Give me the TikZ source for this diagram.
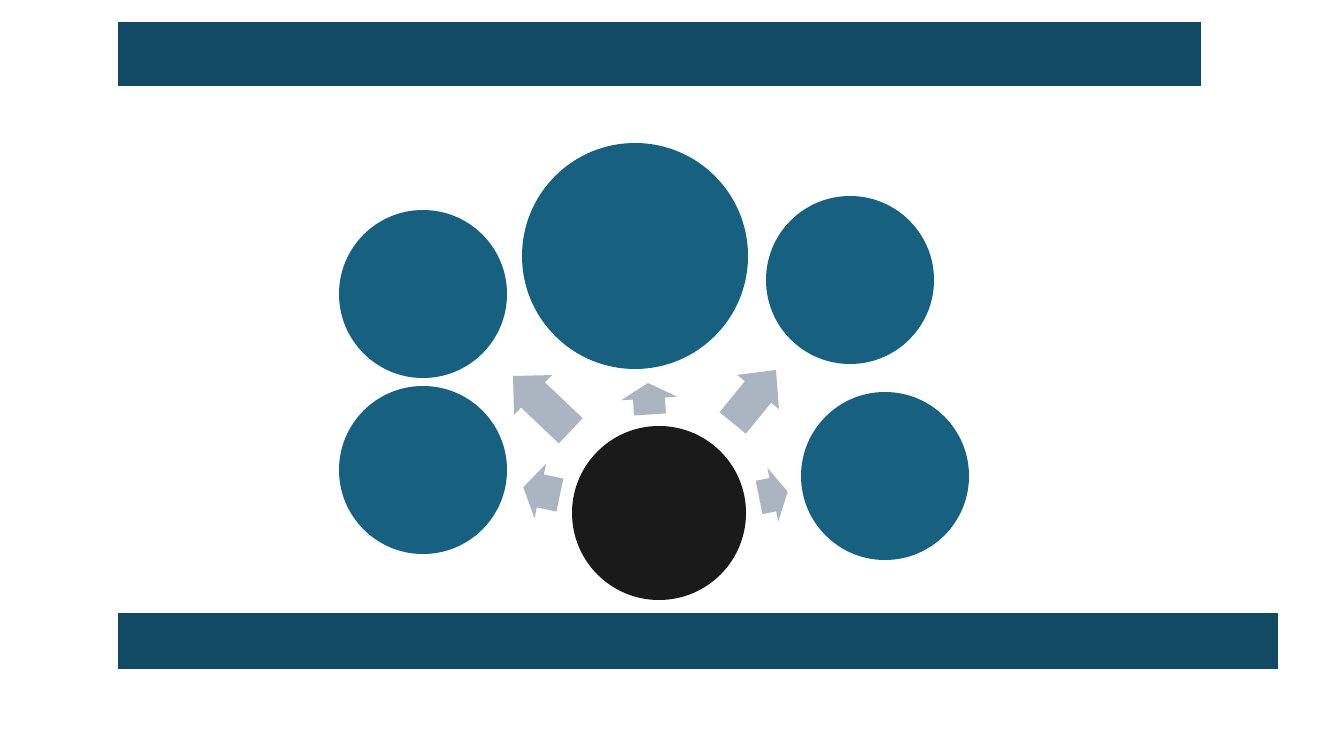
\documentclass[tikz,border=0pt]{standalone}
\definecolor{barcol}{RGB}{18,74,99}
\definecolor{circcol}{RGB}{23,96,128}
\definecolor{blackcol}{RGB}{26,26,26}
\definecolor{arrcol}{RGB}{171,181,193}
% tip x, tip y, angle, head length, head width, shaft width, shaft length
\newcommand\fatarrow[7]{%
  \fill[arrcol,shift={(#1,#2)},rotate=#3]
    (0,0) -- (-#4,#5/2) -- (-#4,#6/2) -- ({-#4-#7},#6/2) -- ({-#4-#7},-#6/2)
    -- (-#4,-#6/2) -- (-#4,-#5/2) -- cycle;}
\begin{document}
\begin{tikzpicture}[x=1pt,y=1pt,
  bar/.style={fill=barcol,draw=none},
  disc/.style={circle,fill=circcol,draw=none,inner sep=0pt},
  hub/.style={circle,fill=blackcol,draw=none,inner sep=0pt}]
\useasboundingbox (0,0) rectangle (1333,750);
\fill[white] (0,0) rectangle (1333,750);
\fill[bar] (118,664) rectangle (1201,728);
\fill[bar] (118,81) rectangle (1278,137);
\node[disc,minimum size=168pt] (lt) at (423,456) {};
\node[disc,minimum size=168pt] (lb) at (423,280) {};
\node[disc,minimum size=226pt] (big) at (635,494) {};
\node[disc,minimum size=168pt] (rt) at (850,470) {};
\node[disc,minimum size=168pt] (rb) at (885,274) {};
\node[hub,minimum size=174pt] (core) at (659,237) {};
\fatarrow{513}{374}{136.5}{27.6}{55}{34.7}{52}
\fatarrow{648}{367}{93.7}{15.5}{56}{32}{16}
\fatarrow{776}{380}{50.7}{28.4}{54}{34}{40}
\fatarrow{523.3}{262.7}{168}{17.4}{55.8}{33.7}{20}
\fatarrow{787.7}{258.3}{11.4}{15.2}{54.7}{34}{14}
\end{tikzpicture}
\end{document}
